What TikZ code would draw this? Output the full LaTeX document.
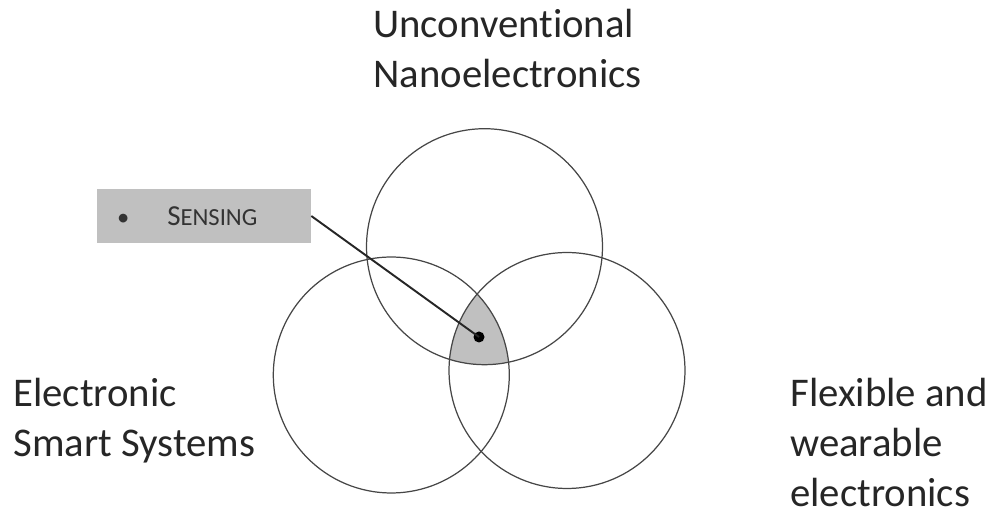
\documentclass[tikz,border=0pt]{standalone}
\usepackage{fontspec}
\setmainfont{Carlito}[Ligatures=NoCommon]
\usetikzlibrary{positioning}
\definecolor{ringgray}{RGB}{70,70,70}
\definecolor{boxgray}{RGB}{192,192,192}
\newcommand{\sensingsc}{{\fontsize{16.5}{18}\selectfont S}{\fontsize{14}{18}\selectfont ENSING}}

\begin{document}
\begin{tikzpicture}[x=0.02cm, y=-0.02cm,
  ring/.style={circle, draw=ringgray, line width=0.7pt, minimum size=4.72cm, inner sep=0pt},
  lbl/.style={anchor=base west, align=left, inner sep=0pt,
              font=\fontsize{23.2}{28.7}\selectfont, text=black!85},
  tag/.style={rectangle, fill=boxgray, minimum width=4.28cm, minimum height=1.08cm,
              text width=3.48cm, inner xsep=0.4cm, align=left, text=black!80},
  lead/.style={line width=1.1pt, draw=black!85},
  spot/.style={circle, fill=black, minimum size=0.22cm, inner sep=0pt}
]
\useasboundingbox (0,0) rectangle (995,516);

% Circle centres
\coordinate (cnano)  at (484.5,246.7);
\coordinate (csmart) at (391.3,375);
\coordinate (cflex)  at (567,370.5);

% Shaded overlap of all three
\begin{scope}
  \clip (cnano) circle[radius=118];
  \clip (csmart) circle[radius=118];
  \fill[boxgray] (cflex) circle[radius=118];
\end{scope}

% Circles
\node[ring] (nano)  at (cnano)  {};
\node[ring] (smart) at (csmart) {};
\node[ring] (flex)  at (cflex)  {};

% Labels (anchored at last baseline)
\node[lbl] (nanolbl)  at (373,88)  {Unconventional\\Nanoelectronics};
\node[lbl] (smartlbl) at (13,457)  {Electronic\\Smart Systems};
\node[lbl] (flexlbl)  at (790,507) {Flexible and\\wearable\\electronics};

% Sensing call-out
\node[tag] (sensing) at (204,216) {\fontsize{14}{18}\selectfont\textbullet\hspace{0.76cm}\sensingsc};
\node[spot] (dot) at (479,337) {};
\draw[lead] (sensing.east) -- (dot.center);

\end{tikzpicture}
\end{document}
